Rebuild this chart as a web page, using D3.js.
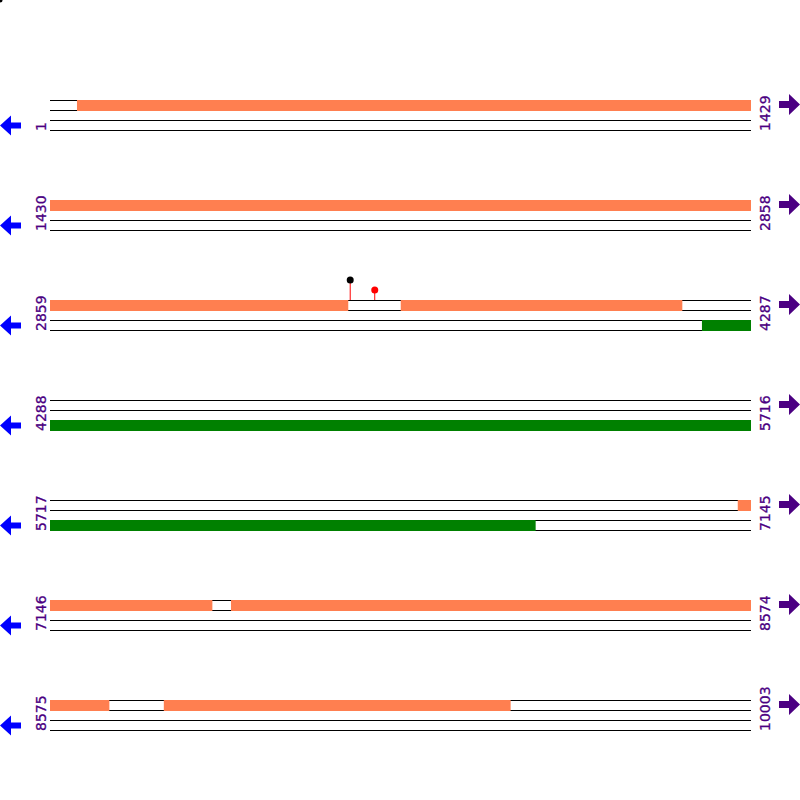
<!DOCTYPE html>
<html>
<head>
<meta charset="utf-8">
<script src="https://cdn.jsdelivr.net/npm/d3@7"></script>
<style>
  body { margin: 0; background: #fff; }
  svg { display: block; }
</style>
</head>
<body>
<svg id="chart" width="800" height="800"></svg>
<script>
// map data
const genomeLength = 10003
const rowLength = 1429
const startLabels = [1, 1430, 2859, 4288, 5717, 7146, 8575]
const endLabels = [1429, 2858, 4287, 5716, 7145, 8574, 10003]

// features on the top track (coral) and bottom track (green), [start, end]
const topFeatures = [[56, 3466], [3574, 4147], [7119, 7476], [7515, 8695], [8807, 9513]]
const bottomFeatures = [[4188, 6706]]

// markers above the top track
const markerPos = [3471, 3521]
const markerHeight = [20, 10]
const markerColor = ['black', 'red']

const svg = d3.select('#chart')
const x0 = 50, x1 = 751

const rowY = d3.scaleLinear().domain([0, 6]).range([100, 700])
const rowScale = i => d3.scaleLinear()
    .domain([startLabels[i], startLabels[i] + rowLength])
    .range([x0, x1])

/**
 * split [start,end] features into per-row pieces
 */
const splitRows = feats => {
    const out = []
    feats.forEach(([s, e]) => {
        startLabels.forEach((rs, i) => {
            const re = Math.min(rs + rowLength - 1, genomeLength)
            const a = Math.max(s, rs), b = Math.min(e, re)
            if (a <= b) out.push({row: i, s: a, e: b})
        })
    })
    return out
}

// stray dot at the corner
svg.append('circle').attr('cx', 0).attr('cy', 0).attr('r', 2.5).style('fill', 'black')

const rows = svg.append('g').selectAll('g')
    .data(startLabels)
    .enter()
    .append('g')
        .attr('transform', (d, i) => `translate(0,${rowY(i)})`)

// track lines
rows.each(function(d, i) {
    const g = d3.select(this)
    const xs = rowScale(i)
    const xe = xs(Math.min(d + rowLength, genomeLength + 1))
    ;[0, 10, 20, 30].forEach(o => {
        g.append('line')
            .attr('x1', x0).attr('x2', xe)
            .attr('y1', o + 0.5).attr('y2', o + 0.5)
            .style('stroke', 'black').style('stroke-width', 1)
    })
})

// features
const drawFeatures = (feats, offset, color) => {
    svg.append('g')
        .selectAll('rect')
        .data(splitRows(feats))
        .enter()
        .append('rect')
            .attr('x', d => rowScale(d.row)(d.s))
            .attr('width', d => rowScale(d.row)(d.e + 1) - rowScale(d.row)(d.s))
            .attr('y', d => rowY(d.row) + offset)
            .attr('height', 11)
            .style('fill', color)
}
drawFeatures(topFeatures, 0, '#FF7F50')
drawFeatures(bottomFeatures, 20, '#008000')

// markers
const markers = markerPos.map((p, k) => {
    const row = startLabels.findIndex((s, i) => p >= s && p <= endLabels[i])
    return {row, p, h: markerHeight[k], c: markerColor[k]}
})
const mg = svg.append('g')
mg.selectAll('line')
    .data(markers)
    .enter()
    .append('line')
        .attr('x1', d => rowScale(d.row)(d.p)).attr('x2', d => rowScale(d.row)(d.p))
        .attr('y1', d => rowY(d.row)).attr('y2', d => rowY(d.row) - d.h)
        .style('stroke', 'red').style('stroke-width', 1)
mg.selectAll('circle')
    .data(markers)
    .enter()
    .append('circle')
        .attr('cx', d => rowScale(d.row)(d.p))
        .attr('cy', d => rowY(d.row) - d.h)
        .attr('r', 3.5)
        .style('fill', d => d.c)

// labels
const label = (txt, x, y) =>
    svg.append('text')
        .attr('transform', `translate(${x},${y}) rotate(-90)`)
        .attr('text-anchor', 'start')
        .style('font-family', '"DejaVu Sans", sans-serif')
        .style('font-size', '14px')
        .style('fill', '#4B0082')
        .style('stroke', '#4B0082')
        .style('stroke-width', 0.3)
        .text(txt)
startLabels.forEach((d, i) => label(d, 46, rowY(i) + 31))
endLabels.forEach((d, i) => label(d, 770, rowY(i) + 31))

// direction arrows
const leftArrow = 'M0,0 L11,-10 L11,-3 L21,-3 L21,3 L11,3 L11,10 Z'
const rightArrow = 'M0,0 L-11,-10.5 L-11,-3.5 L-21,-3.5 L-21,3.5 L-11,3.5 L-11,10.5 Z'
startLabels.forEach((d, i) => {
    svg.append('path').attr('d', leftArrow)
        .attr('transform', `translate(0,${rowY(i) + 25.5})`)
        .style('fill', '#0000FF')
    svg.append('path').attr('d', rightArrow)
        .attr('transform', `translate(800,${rowY(i) + 4.5})`)
        .style('fill', '#4B0082')
})
</script>
</body>
</html>
